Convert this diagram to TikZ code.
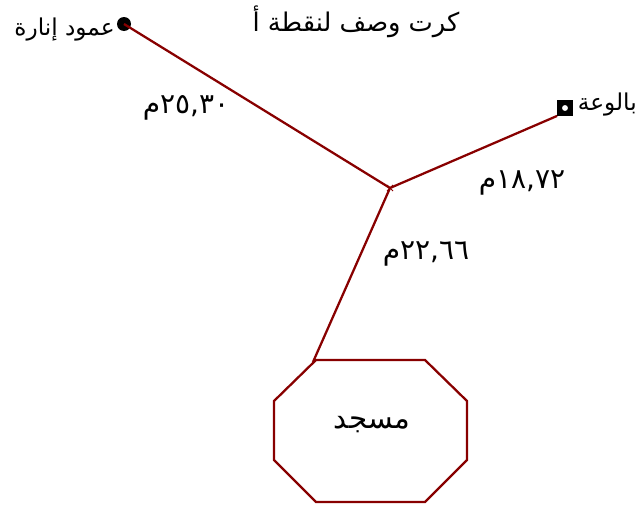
\documentclass[tikz,border=0pt]{standalone}
\usepackage{fontspec}
\TeXXeTstate=1
\newfontfamily\arabicfont[Script=Arabic]{DejaVu Sans}
\definecolor{linered}{HTML}{880000}
\tikzset{
  link/.style={draw=linered,line width=1.7pt},
  txt/.style={inner sep=0pt,font=\arabicfont\fontsize{17.4}{20}\selectfont,text=black},
  bigtxt/.style={inner sep=0pt,font=\arabicfont\fontsize{22}{24}\selectfont,text=black},
  numtxt/.style={inner sep=0pt,font=\arabicfont\fontsize{21}{24}\selectfont,text=black},
  titletxt/.style={inner sep=0pt,font=\arabicfont\fontsize{19.3}{22}\selectfont,text=black}
}
\begin{document}
\begin{tikzpicture}[x=0.75pt,y=-0.75pt]
\useasboundingbox (0,0) rectangle (643,507);
\node[titletxt] (title) at (356,22) {\beginR كرت وصف لنقطة أ\endR};
\node[circle,fill=black,inner sep=0pt,minimum size=10.5pt] (lamp) at (124,24) {};
\node[rectangle,fill=black,inner sep=0pt,minimum size=11.5pt] (sink) at (565,108) {};
\fill[white] (sink.center) circle[radius=2.2pt];
\coordinate (junction) at (390,188);
\coordinate (mtl) at (316,360);
\coordinate (mtr) at (425,360);
\coordinate (mrt) at (467,401);
\coordinate (mrb) at (467,460);
\coordinate (mbr) at (425,502);
\coordinate (mbl) at (316,502);
\coordinate (mlb) at (274,460);
\coordinate (mlt) at (274,401);
\coordinate (mjoin) at (313,362);
\draw[link] (mtl) -- (mtr) -- (mrt) -- (mrb) -- (mbr) -- (mbl) -- (mlb) -- (mlt) -- cycle;
\draw[link] (junction) -- (lamp.center);
\draw[link] (junction) -- (sink.south west);
\draw[link] (junction) -- (mjoin);
\draw[draw=linered,line width=0.7pt] ([shift={(-3,-3)}]junction) -- ([shift={(3,3)}]junction) ([shift={(-3,3)}]junction) -- ([shift={(3,-3)}]junction);
\node[txt,anchor=east] (lamplabel) at (115,30) {\beginR عمود إنارة\endR};
\node[txt,anchor=east] (sinklabel) at (637,105) {\beginR بالوعة\endR};
\node[bigtxt] (mosque) at (372,425) {\beginR مسجد\endR};
\node[numtxt] (d1) at (186,108) {\beginR\beginL ٢٥,٣٠\endL م\endR};
\node[numtxt] (d2) at (522,183) {\beginR\beginL ١٨,٧٢\endL م\endR};
\node[numtxt] (d3) at (426,254) {\beginR\beginL ٢٢,٦٦\endL م\endR};
\end{tikzpicture}
\end{document}
